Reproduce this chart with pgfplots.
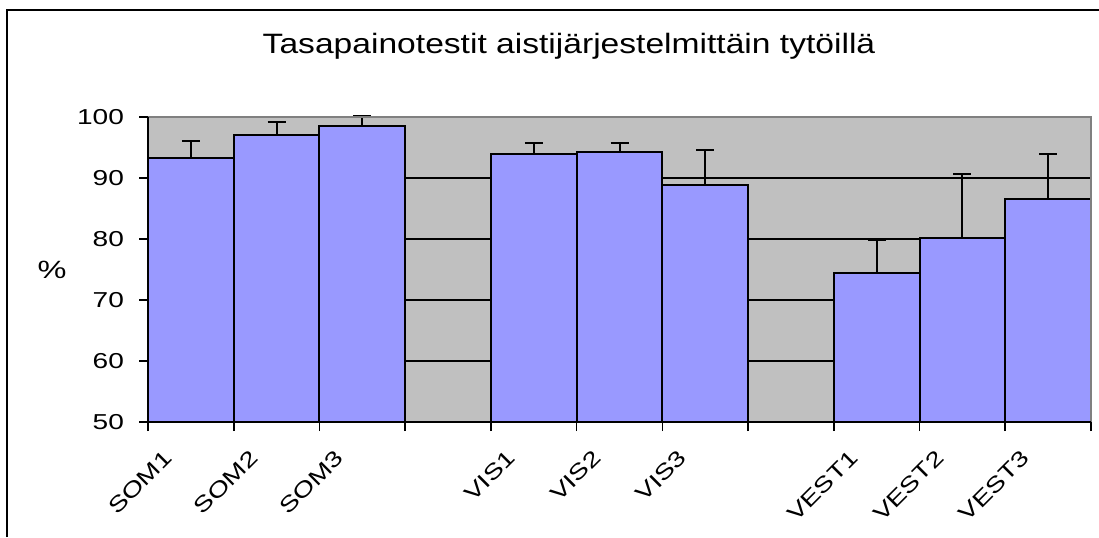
\documentclass[border=0pt]{standalone}
\usepackage{fontspec}
\setmainfont[FakeStretch=1.3]{Liberation Sans}
\newfontfamily\titlefont[FakeStretch=1.2]{Liberation Sans}
\usepackage{pgfplots}
\pgfplotsset{compat=1.18}
\definecolor{barblue}{HTML}{9999FF}
\definecolor{plotgray}{HTML}{C0C0C0}
\definecolor{bordergray}{HTML}{808080}
\begin{document}
\begin{tikzpicture}
\useasboundingbox (0,0) rectangle (549.5pt,268.5pt);
\draw[line width=1pt] (3.5pt,0) -- (3.5pt,263.5pt) -- (549.5pt,263.5pt);
\node[anchor=base, font=\titlefont\fontsize{14}{16}\selectfont] at (284.5pt,241.5pt) {Tasapainotestit aistijärjestelmittäin tytöillä};
\node[font=\fontsize{12.5}{14}\selectfont] at (26pt,133.5pt) {\%};
\begin{axis}[
 at={(74pt,57.5pt)}, anchor=south west,
 scale only axis, width=471.5pt, height=152.5pt,
 xmin=0, xmax=11, ymin=50, ymax=100,
 axis background/.style={fill=plotgray},
 axis line style={draw=none},
 xtick={0,...,11}, xticklabels={},
 extra x ticks={0.5,1.5,2.5,4.5,5.5,6.5,8.5,9.5,10.5},
 extra x tick labels={SOM1,SOM2,SOM3,VIS1,VIS2,VIS3,VEST1,VEST2,VEST3},
 extra x tick style={tick style={draw=none}, xticklabel style={xshift=-14pt, yshift=-4pt, rotate=45, anchor=north east}},
 ytick={50,60,...,100},
 yticklabel style={xshift=-4pt},
 ymajorgrids, grid style={black, line width=0.6pt},
 tick align=outside, major tick length=4.5pt,
 tick style={black, line width=0.8pt},
 xtick pos=left, ytick pos=left,
 ticklabel style={font=\fontsize{10.8}{13}\selectfont},
 /pgf/number format/assume math mode=true,
 clip=false,
 bar width=1,
]
\addplot[ybar, fill=barblue, draw=black, line width=1pt,
  error bars/.cd, y dir=plus, y explicit,
  error bar style={line width=1pt, black},
  error mark options={rotate=90, mark size=4.5pt, line width=1pt, black}]
 coordinates {
 (0.5,93.3) +- (0,2.8)
 (1.5,97.1) +- (0,2.1)
 (2.5,98.6) +- (0,1.6)
 (4.5,94.0) +- (0,1.8)
 (5.5,94.3) +- (0,1.5)
 (6.5,88.8) +- (0,5.8)
 (8.5,74.5) +- (0,5.4)
 (9.5,80.2) +- (0,10.4)
 (10.5,86.6) +- (0,7.4)
 };
\draw[bordergray, line width=1pt] (rel axis cs:0,1) -- (rel axis cs:1,1) -- (rel axis cs:1,0);
\draw[black, line width=1pt] (rel axis cs:0,1) -- (rel axis cs:0,0) -- (rel axis cs:1,0);
\end{axis}
\end{tikzpicture}
\end{document}
